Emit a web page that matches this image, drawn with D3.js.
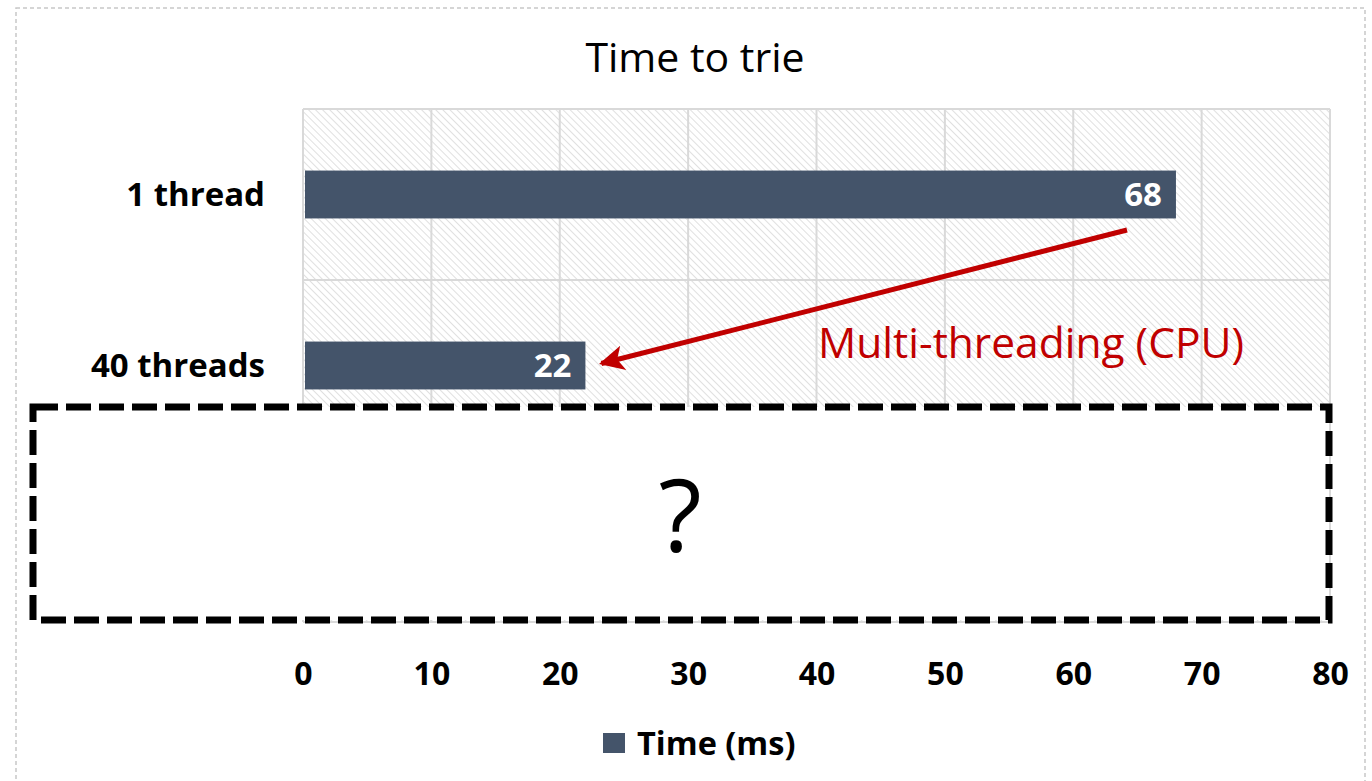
<!DOCTYPE html>
<html>
<head>
<meta charset="utf-8">
<script src="https://cdn.jsdelivr.net/npm/d3@7"></script>
<style>
  body { margin: 0; background: #fff; }
  text { font-family: "Open Sans", Lato, sans-serif; }
</style>
</head>
<body>
<svg id="chart" width="1372" height="781"></svg>
<script>
// Data
var categories = ["1 thread", "40 threads", ""];
var times = [68, 22, null];
var xTicks = [0, 10, 20, 30, 40, 50, 60, 70, 80];
var seriesName = "Time (ms)";
var chartTitle = "Time to trie";
var noteText = "Multi-threading (CPU)";

var svg = d3.select("#chart");

var margin = { left: 303, right: 1330, top: 109, bottom: 622 };

var x = d3.scaleLinear()
    .domain([0, 80])
    .range([margin.left, margin.right]);

var y = d3.scaleBand()
    .domain(d3.range(categories.length))
    .range([margin.top, margin.bottom])
    .paddingInner(0.72)
    .paddingOuter(0.36);

var band = d3.scaleBand()
    .domain(d3.range(categories.length))
    .range([margin.top, margin.bottom]);

// outer chart border
svg.append("rect")
    .attr("x", 16).attr("y", 8)
    .attr("width", 1349).attr("height", 790)
    .attr("fill", "none")
    .attr("stroke", "#c8c8c8")
    .attr("stroke-width", 1.5)
    .attr("stroke-dasharray", "4,3");

// hatch pattern
var defs = svg.append("defs");
var pat = defs.append("pattern")
    .attr("id", "hatch")
    .attr("patternUnits", "userSpaceOnUse")
    .attr("width", 5).attr("height", 5)
    .attr("patternTransform", "rotate(-45)");
pat.append("rect").attr("width", 5).attr("height", 5).attr("fill", "#fff");
pat.append("line")
    .attr("x1", 0).attr("y1", 0).attr("x2", 0).attr("y2", 5)
    .attr("stroke", "#d9d9d9").attr("stroke-width", 1.6);

svg.append("rect")
    .attr("x", margin.left).attr("y", margin.top)
    .attr("width", margin.right - margin.left)
    .attr("height", margin.bottom - margin.top)
    .attr("fill", "url(#hatch)");

// gridlines
svg.append("g")
    .selectAll("line.v")
    .data(xTicks)
    .enter()
    .append("line")
    .attr("x1", function (d) { return x(d); })
    .attr("x2", function (d) { return x(d); })
    .attr("y1", margin.top).attr("y2", margin.bottom)
    .attr("stroke", "#d9d9d9").attr("stroke-width", 2);

svg.append("g")
    .selectAll("line.h")
    .data(d3.range(categories.length + 1))
    .enter()
    .append("line")
    .attr("x1", margin.left).attr("x2", margin.right)
    .attr("y1", function (d) { return margin.top + d * band.bandwidth(); })
    .attr("y2", function (d) { return margin.top + d * band.bandwidth(); })
    .attr("stroke", "#d9d9d9").attr("stroke-width", 2);

// bars
var bars = categories.map(function (c, i) { return { cat: c, v: times[i], i: i }; })
    .filter(function (d) { return d.v != null; });

svg.append("g")
    .selectAll("rect")
    .data(bars)
    .enter()
    .append("rect")
    .attr("x", x(0) + 2)
    .attr("y", function (d) { return y(d.i); })
    .attr("width", function (d) { return x(d.v) - x(0) - 2; })
    .attr("height", y.bandwidth())
    .attr("fill", "#44546a");

svg.append("g")
    .selectAll("text")
    .data(bars)
    .enter()
    .append("text")
    .attr("x", function (d) { return x(d.v) - 14; })
    .attr("y", function (d) { return y(d.i) + y.bandwidth() / 2; })
    .attr("dy", "0.36em")
    .attr("text-anchor", "end")
    .attr("fill", "#fff")
    .attr("font-weight", "bold")
    .attr("font-size", 33)
    .text(function (d) { return d.v; });

// category labels
svg.append("g")
    .selectAll("text")
    .data(categories)
    .enter()
    .append("text")
    .attr("x", 265)
    .attr("y", function (d, i) { return band(i) + band.bandwidth() / 2; })
    .attr("dy", "0.36em")
    .attr("text-anchor", "end")
    .attr("font-weight", "bold")
    .attr("font-size", 33)
    .attr("fill", "#000")
    .text(function (d) { return d; });

// title
svg.append("text")
    .attr("x", 695).attr("y", 57)
    .attr("dy", "0.36em")
    .attr("text-anchor", "middle")
    .attr("font-size", 41)
    .attr("fill", "#000")
    .text(chartTitle);

// annotation arrow
defs.append("marker")
    .attr("id", "arrow")
    .attr("viewBox", "0 0 10 10")
    .attr("refX", 9).attr("refY", 5)
    .attr("markerWidth", 7).attr("markerHeight", 5)
    .attr("markerUnits", "strokeWidth")
    .attr("orient", "auto")
    .append("path")
    .attr("d", "M0,0 L10,5 L0,10 L2.5,5 Z")
    .attr("fill", "#c00000");

svg.append("line")
    .attr("x1", 1127).attr("y1", 230)
    .attr("x2", x(22) + 16).attr("y2", y(1) + y.bandwidth() / 2 - 2)
    .attr("stroke", "#c00000")
    .attr("stroke-width", 5)
    .attr("marker-end", "url(#arrow)");

svg.append("text")
    .attr("x", 1244).attr("y", 343)
    .attr("dy", "0.36em")
    .attr("text-anchor", "end")
    .attr("font-size", 42.5)
    .attr("fill", "#c00000")
    .text(noteText);

// dashed cover box
svg.append("rect")
    .attr("x", 33).attr("y", 407)
    .attr("width", 1296).attr("height", 213)
    .attr("fill", "#fff")
    .attr("stroke", "#000")
    .attr("stroke-width", 7)
    .attr("stroke-dasharray", "25,8");

svg.append("text")
    .attr("x", 680).attr("y", 516)
    .attr("dy", "0.36em")
    .attr("text-anchor", "middle")
    .attr("font-size", 100)
    .attr("fill", "#000")
    .text("?");

// x axis
var xAxis = svg.append("g")
    .attr("transform", "translate(0," + 673 + ")")
    .call(d3.axisBottom(x).tickValues(xTicks).tickSize(0).tickPadding(0));
xAxis.select(".domain").remove();
xAxis.selectAll("text")
    .attr("dy", "0.36em")
    .attr("font-family", "'Open Sans', Lato, sans-serif")
    .attr("font-weight", "bold")
    .attr("font-size", 32)
    .attr("fill", "#000");

// legend
svg.append("rect")
    .attr("x", 603).attr("y", 733)
    .attr("width", 22).attr("height", 20)
    .attr("fill", "#44546a");
svg.append("text")
    .attr("x", 637).attr("y", 743)
    .attr("dy", "0.36em")
    .attr("font-weight", "bold")
    .attr("font-size", 32.5)
    .attr("fill", "#000")
    .text(seriesName);
</script>
</body>
</html>
